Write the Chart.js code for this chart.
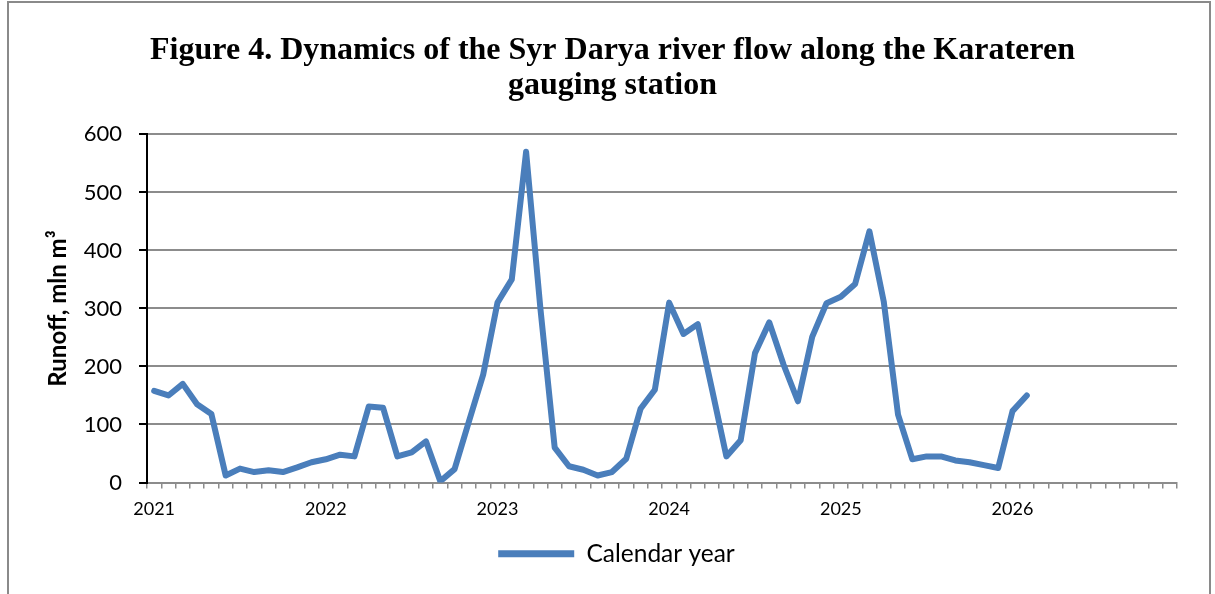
<!DOCTYPE html>
<html>
<head>
<meta charset="utf-8">
<script src="https://cdn.jsdelivr.net/npm/chart.js@4"></script>
<style>
  html, body { margin: 0; padding: 0; background: #fff; overflow: hidden; }
  #frame { position: absolute; left: 7px; top: 1px; width: 1204px; height: 640px; border: 2px solid #8a8a8a; box-sizing: border-box; }
  #c { position: absolute; left: 0; top: 0; }
</style>
</head>
<body>
<div id="frame"></div>
<canvas id="c" width="1215" height="594"></canvas>
<script>
// Categories: monthly slots, year label on the first month of each year
const years = ['2021', '2022', '2023', '2024', '2025', '2026'];
const monthsPerYear = 12;
const categories = [];
years.forEach(y => { for (let m = 0; m < monthsPerYear; m++) categories.push(m === 0 ? y : ''); });

// Runoff, mln m3
const runoff2021 = [158, 150, 170, 135, 118, 12, 24, 18, 21, 18, 26, 35];
const runoff2022 = [40, 48, 45, 131, 129, 45, 52, 71, 2, 23, 105, 186];
const runoff2023 = [310, 350, 570, 300, 60, 28, 22, 12, 18, 41, 127, 160];
const runoff2024 = [310, 256, 273, 160, 45, 73, 223, 276, 203, 140, 251, 309];
const runoff2025 = [320, 342, 433, 312, 117, 40, 45, 45, 38, 35, 30, 25];
const runoff2026 = [123, 150, null, null, null, null, null, null, null, null, null, null];
const runoff = [].concat(runoff2021, runoff2022, runoff2023, runoff2024, runoff2025, runoff2026);

const yTicks = [0, 100, 200, 300, 400, 500, 600];

const titleLines = ['Figure 4. Dynamics of the Syr Darya river flow along the Karateren', 'gauging station'];
const seriesName = 'Calendar year';
const yTitle = 'Runoff, mln m³';

const blockShift = {
  id: 'blockShift',
  afterLayout(chart) {
    const lg = chart.legend;
    if (lg) { lg.left += 28; lg.right += 28; }
    const tb = chart.titleBlock;
    if (tb) { tb.left += 24; tb.right += 24; }
  }
};

new Chart(document.getElementById('c'), {
  type: 'line',
  data: {
    labels: categories,
    datasets: [{
      label: seriesName,
      data: runoff,
      borderColor: '#4a7ebb',
      backgroundColor: '#4a7ebb',
      borderWidth: 6,
      pointRadius: 0,
      tension: 0,
      borderJoinStyle: 'round',
      borderCapStyle: 'round',
      spanGaps: false
    }]
  },
  options: {
    responsive: false,
    animation: false,
    devicePixelRatio: 1,
    layout: { padding: { left: 0, right: 38, top: 0, bottom: 18 } },
    plugins: {
      title: {
        display: true,
        text: titleLines,
        color: '#000',
        font: { family: '"Liberation Serif", "Times New Roman", serif', size: 32, weight: 'bold', lineHeight: 1.1 },
        padding: { top: 33, bottom: 31 }
      },
      legend: {
        display: true,
        position: 'bottom',
        labels: {
          color: '#000',
          font: { family: 'Lato, sans-serif', size: 24.5 },
          boxWidth: 76,
          boxHeight: 7,
          useBorderRadius: true,
          borderRadius: 3.5,
          padding: 10,
          generateLabels(chart) {
            return chart.data.datasets.map((ds, i) => ({
              text: ds.label,
              fillStyle: ds.borderColor,
              strokeStyle: ds.borderColor,
              lineWidth: 0,
              hidden: false,
              datasetIndex: i,
              fontColor: '#000'
            }));
          }
        }
      },
      tooltip: { enabled: false }
    },
    scales: {
      x: {
        type: 'category',
        offset: true,
        afterFit(scale) { scale.height = 49; },
        grid: {
          offset: true,
          drawOnChartArea: false,
          drawTicks: true,
          tickLength: 6,
          color: '#8c8c8c',
          lineWidth: 1.5
        },
        border: { display: true, color: '#8c8c8c', width: 2 },
        ticks: {
          autoSkip: false,
          maxRotation: 0,
          minRotation: 0,
          color: '#000',
          padding: 10,
          font: { family: 'Lato, sans-serif', size: 18 }
        }
      },
      y: {
        min: 0,
        max: 600,
        afterFit(scale) { scale.width = 147; },
        afterBuildTicks(scale) { scale.ticks = yTicks.map(v => ({ value: v })); },
        grid: {
          color: '#8c8c8c',
          lineWidth: 2,
          tickColor: '#000',
          tickLength: 8,
          drawTicks: true
        },
        border: { display: true, color: '#000', width: 2 },
        ticks: {
          color: '#000',
          padding: 17,
          font: { family: 'Lato, sans-serif', size: 22 }
        },
        title: {
          display: true,
          text: yTitle,
          color: '#000',
          font: { family: 'Lato, sans-serif', size: 24, weight: 'bold' },
          padding: { top: 44, bottom: 0 }
        }
      }
    }
  },
  plugins: [blockShift]
});
</script>
</body>
</html>
